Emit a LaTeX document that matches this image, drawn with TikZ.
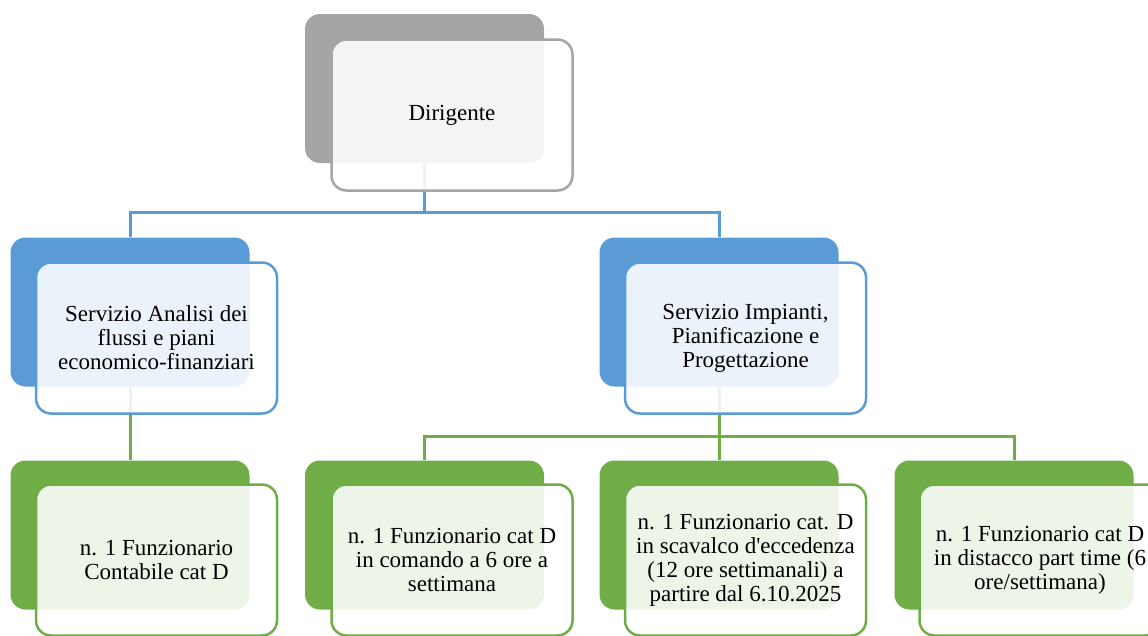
\documentclass[tikz,border=0pt]{standalone}
\usepackage{fontspec}
\setmainfont{Liberation Serif}
\definecolor{cgray}{HTML}{A5A5A5}
\definecolor{cblue}{HTML}{5B9BD5}
\definecolor{cgreen}{HTML}{70AD47}
\pgfdeclarelayer{bg}
\pgfsetlayers{bg,main}
\tikzset{
 backbox/.style={rounded corners=15pt, minimum width=239pt, minimum height=149pt, fill=#1, draw=none, inner sep=0pt},
 frontbox/.style={rounded corners=15pt, minimum width=241pt, minimum height=151pt, draw=#1, line width=2.5pt, fill=white, fill opacity=0.88, text opacity=1, align=center, font=\fontsize{23}{24}\selectfont, inner sep=0pt},
 conn/.style={draw=#1, line width=3pt},
}
\begin{document}
\begin{tikzpicture}[x=1pt,y=-1pt]
\useasboundingbox (0,0) rectangle (1148,635);
\clip (0,0) rectangle (1148,635);
\node[backbox=cgray] (bd) at (424.5,88.5) {};
\node[frontbox=cgray] (fd) at (452,115) {Dirigente};
\node[backbox=cblue] (bs1) at (130,312) {};
\node[frontbox=cblue] (fs1) at (156.5,338) {Servizio Analisi dei\\flussi e piani\\economico-finanziari};
\node[backbox=cblue] (bs2) at (719,312) {};
\node[frontbox=cblue] (fs2) at (745.5,338) {Servizio Impianti,\\Pianificazione e\\Progettazione};
\node[backbox=cgreen] (bf1) at (130,535) {};
\node[frontbox=cgreen] (ff1) at (156.5,560) {n. 1 Funzionario\\Contabile cat D};
\node[backbox=cgreen] (bf2) at (424.5,535) {};
\node[frontbox=cgreen] (ff2) at (452,560) {n. 1 Funzionario cat D\\in comando a 6 ore a\\settimana};
\node[backbox=cgreen] (bf3) at (719,535) {};
\node[frontbox=cgreen] (ff3) at (745.5,560) {n. 1 Funzionario cat. D\\in scavalco d\textquotesingle eccedenza\\(12 ore settimanali) a\\partire dal 6.10.2025};
\node[backbox=cgreen] (bf4) at (1014,535) {};
\node[frontbox=cgreen] (ff4) at (1040,560) {n. 1 Funzionario cat D\\in distacco part time (6\\ore/settimana)};
\coordinate (j1) at (424.5,212);
\coordinate (j2) at (719,436);
\begin{pgfonlayer}{bg}
\draw[conn=cblue] (bd.south) -- (j1) -| (bs1.north);
\draw[conn=cblue] (j1) -| (bs2.north);
\draw[conn=cgreen] (bs1.south) -- (bf1.north);
\draw[conn=cgreen] (bs2.south) -- (j2) -| (bf2.north);
\draw[conn=cgreen] (j2) -| (bf4.north);
\draw[conn=cgreen] (j2) -- (bf3.north);
\end{pgfonlayer}
\end{tikzpicture}
\end{document}
